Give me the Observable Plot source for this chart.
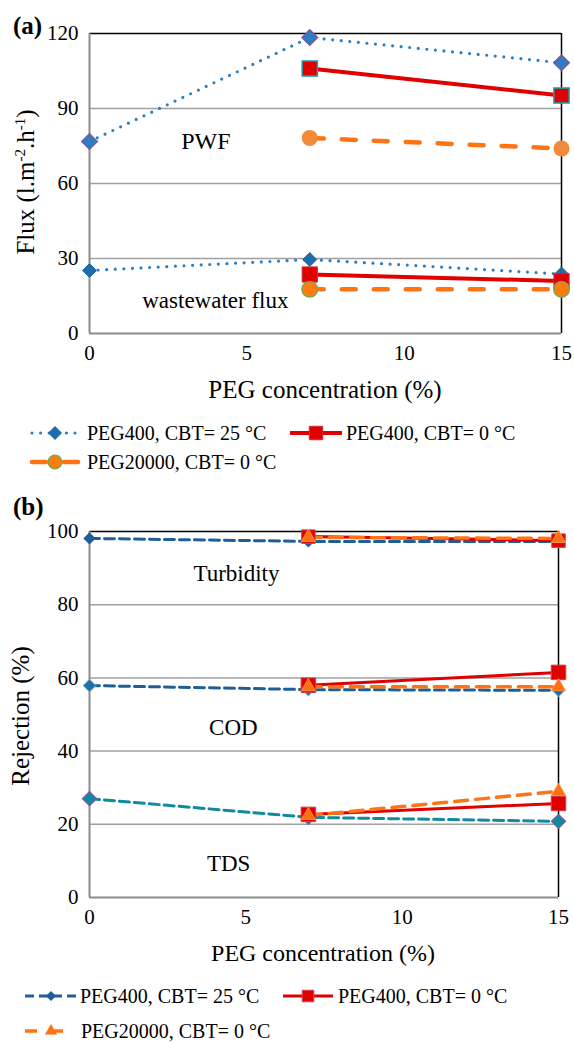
<!DOCTYPE html>
<html><head><meta charset="utf-8">
<script src="https://cdn.jsdelivr.net/npm/d3@7"></script>
<script src="https://cdn.jsdelivr.net/npm/@observablehq/plot@0.6"></script>
<style>
body{margin:0;background:#fff;font-family:'Liberation Serif',serif;}
#wrap{position:relative;width:574px;height:1043px;overflow:hidden;background:#fff}
#wrap > *{position:absolute;left:0}
#wrap svg, #wrap svg text, #wrap svg tspan, #wrap svg g{font-family:'Liberation Serif',serif !important;}
</style></head><body><div id="wrap"></div>
<script>
// ---------- data ----------
const conc = [0, 7, 15];
const concTicks = [0, 5, 10, 15];
const fluxTicks = [0, 30, 60, 90, 120];
const rejTicks = [0, 20, 40, 60, 80, 100];
const seriesNames = ["PEG400, CBT= 25 °C", "PEG400, CBT= 0 °C", "PEG20000, CBT= 0 °C"];
// (a) flux
const pwf400_25 = [76.8, 118.4, 108.3];
const pwf400_0 = [null, 106, 95.2];
const pwf20000_0 = [null, 78.2, 74];
const ww400_25 = [25.2, 29.6, 23.8];
const ww400_0 = [null, 23.6, 21];
const ww20000_0 = [null, 17.7, 17.7];
const fluxNotes = ["PWF", "wastewater flux"];
// (b) rejection
const turb400_25 = [98.1, 97.3, 97.3];
const turb400_0 = [null, 98.6, 97.5];
const turb20000_0 = [null, 98.4, 98.1];
const cod400_25 = [57.9, 56.8, 56.6];
const cod400_0 = [null, 58.0, 61.5];
const cod20000_0 = [null, 57.6, 57.6];
const tds400_25 = [27.0, 21.9, 20.8];
const tds400_0 = [null, 22.7, 25.7];
const tds20000_0 = [null, 22.4, 29.0];
const rejNotes = ["Turbidity", "COD", "TDS"];

// ---------- helpers ----------
const rows = arr => conc.map((x, i) => ({x, y: arr[i]})).filter(d => d.y != null);
const FONT = "'Liberation Serif', serif";
const wrap = document.getElementById("wrap");

function frame(ymax, grid) {
  return [
    Plot.ruleY(grid, {stroke: "#a0a0a0", strokeWidth: 1.5}),
    Plot.ruleY([ymax], {stroke: "#000", strokeWidth: 1.5}),
    Plot.ruleX([15], {stroke: "#000", strokeWidth: 1.5}),
    Plot.ruleX([0], {stroke: "#8c8c8c", strokeWidth: 2}),
    Plot.ruleY([0], {stroke: "#8c8c8c", strokeWidth: 2})
  ];
}

// ---------- (a) ----------
const chartA = Plot.plot({
  width: 574, height: 400,
  marginLeft: 89, marginRight: 13, marginTop: 33, marginBottom: 67,
  x: {domain: [0, 15]},
  y: {domain: [0, 120]},
  style: {fontFamily: FONT, fontSize: "21px", color: "#000", background: "#fff", overflow: "visible"},
  marks: [
    ...frame(120, [30, 60, 90]),
    Plot.axisX(concTicks, {tickSize: 0, tickPadding: 12, fontSize: 21, label: null}),
    Plot.axisY(fluxTicks, {tickSize: 0, tickPadding: 11, fontSize: 21, label: null}),
    // lines
    Plot.line(rows(pwf400_25), {x: "x", y: "y", stroke: "#2a80c6", strokeWidth: 3.2, strokeDasharray: "0 8.6", strokeLinecap: "round"}),
    Plot.line(rows(ww400_25), {x: "x", y: "y", stroke: "#2a80c6", strokeWidth: 3.2, strokeDasharray: "0 8.6", strokeLinecap: "round"}),
    Plot.line(rows(pwf400_0), {x: "x", y: "y", stroke: "#e00000", strokeWidth: 4}),
    Plot.line(rows(ww400_0), {x: "x", y: "y", stroke: "#e00000", strokeWidth: 4}),
    Plot.line(rows(pwf20000_0), {x: "x", y: "y", stroke: "#ff7412", strokeWidth: 4.5, strokeDasharray: "14 18", strokeLinecap: "round"}),
    Plot.line(rows(ww20000_0), {x: "x", y: "y", stroke: "#ff7412", strokeWidth: 4.5, strokeDasharray: "14 18", strokeLinecap: "round"}),
    // markers
    Plot.dot(rows(pwf400_25), {x: "x", y: "y", symbol: "diamond2", r: 7, fill: "#2e7dc0", stroke: "#7a5aa0", strokeWidth: 1.5}),
    Plot.dot(rows(ww400_25), {x: "x", y: "y", symbol: "diamond2", r: 6.3, fill: "#1f6da8", stroke: "#1f6da8", strokeWidth: 1}),
    Plot.dot(rows(pwf400_0), {x: "x", y: "y", symbol: "square", r: 8.6, fill: "#e00000", stroke: "#1aa0b0", strokeWidth: 1.5}),
    Plot.dot(rows(ww400_0), {x: "x", y: "y", symbol: "square", r: 8.6, fill: "#e00000", stroke: "#c83040", strokeWidth: 1}),
    Plot.dot(rows(pwf20000_0), {x: "x", y: "y", symbol: "circle", r: 8, fill: "#f28a3a"}),
    Plot.dot(rows(ww20000_0), {x: "x", y: "y", symbol: "circle", r: 7.8, fill: "#ff7a10", stroke: "#7aaa45", strokeWidth: 1.5}),
    // annotations
    Plot.text([fluxNotes[0]], {x: 3.7, y: 77, text: d => d, fontSize: 24, fill: "#000"}),
    Plot.text([fluxNotes[1]], {x: 4.0, y: 13, text: d => d, fontSize: 23, fill: "#000"})
  ]
});
chartA.style.top = "0px";
wrap.appendChild(chartA);

// ---------- (b) ----------
const chartB = Plot.plot({
  width: 574, height: 470,
  marginLeft: 89, marginRight: 16, marginTop: 31, marginBottom: 73,
  x: {domain: [0, 15]},
  y: {domain: [0, 100]},
  style: {fontFamily: FONT, fontSize: "21px", color: "#000", background: "#fff", overflow: "visible"},
  marks: [
    ...frame(100, [20, 40, 60, 80]),
    Plot.axisX(concTicks, {tickSize: 0, tickPadding: 12, fontSize: 21, label: null}),
    Plot.axisY(rejTicks, {tickSize: 0, tickPadding: 11, fontSize: 21, label: null}),
    // PEG400 25
    Plot.line(rows(turb400_25), {x: "x", y: "y", stroke: "#1f5f99", strokeWidth: 3, strokeDasharray: "10 5"}),
    Plot.line(rows(cod400_25), {x: "x", y: "y", stroke: "#1f5f99", strokeWidth: 3, strokeDasharray: "10 5"}),
    Plot.line(rows(tds400_25), {x: "x", y: "y", stroke: "#108a9e", strokeWidth: 3, strokeDasharray: "10 5"}),
    // PEG400 0
    Plot.line(rows(turb400_0), {x: "x", y: "y", stroke: "#e00000", strokeWidth: 3}),
    Plot.line(rows(cod400_0), {x: "x", y: "y", stroke: "#e00000", strokeWidth: 3}),
    Plot.line(rows(tds400_0), {x: "x", y: "y", stroke: "#e00000", strokeWidth: 3}),
    // PEG20000 0
    Plot.line(rows(turb20000_0), {x: "x", y: "y", stroke: "#ff7412", strokeWidth: 3.5, strokeDasharray: "13 8"}),
    Plot.line(rows(cod20000_0), {x: "x", y: "y", stroke: "#ff7412", strokeWidth: 3.5, strokeDasharray: "13 8"}),
    Plot.line(rows(tds20000_0), {x: "x", y: "y", stroke: "#ff7412", strokeWidth: 3.5, strokeDasharray: "13 8"}),
    // markers
    Plot.dot(rows(turb400_25), {x: "x", y: "y", symbol: "diamond2", r: 4.6, fill: "#1f5f99", stroke: "#1f5f99"}),
    Plot.dot(rows(cod400_25), {x: "x", y: "y", symbol: "diamond2", r: 5.8, fill: "#1f6fa8", stroke: "#8ab4dc", strokeWidth: 1}),
    Plot.dot(rows(tds400_25), {x: "x", y: "y", symbol: "diamond2", r: 6.2, fill: "#0e8a9e", stroke: "#7a5aa0", strokeWidth: 1.5}),
    Plot.dot(rows(turb400_0), {x: "x", y: "y", symbol: "square", r: 7.6, fill: "#e00000", stroke: "#d04050", strokeWidth: 1}),
    Plot.dot(rows(cod400_0), {x: "x", y: "y", symbol: "square", r: 8.2, fill: "#e00000", stroke: "#d04050", strokeWidth: 1}),
    Plot.dot(rows(tds400_0), {x: "x", y: "y", symbol: "square", r: 8.2, fill: "#e00000", stroke: "#d04050", strokeWidth: 1}),
    Plot.dot(rows(turb20000_0), {x: "x", y: "y", symbol: "triangle", r: 5.2, fill: "#ff7010", stroke: "#ff9040", strokeWidth: 1}),
    Plot.dot(rows(cod20000_0), {x: "x", y: "y", symbol: "triangle", r: 5.2, fill: "#ff7010", stroke: "#ff9040", strokeWidth: 1}),
    Plot.dot(rows(tds20000_0), {x: "x", y: "y", symbol: "triangle", r: 5.2, fill: "#ff7010", stroke: "#ff9040", strokeWidth: 1}),
    // annotations
    Plot.text([rejNotes[0]], {x: 4.7, y: 88.5, text: d => d, fontSize: 23, fill: "#000"}),
    Plot.text([rejNotes[1]], {x: 4.6, y: 46.4, text: d => d, fontSize: 23, fill: "#000"}),
    Plot.text([rejNotes[2]], {x: 4.45, y: 9.3, text: d => d, fontSize: 23, fill: "#000"})
  ]
});
chartB.style.top = "500px";
wrap.appendChild(chartB);

// ---------- overlay: titles, panel labels, legends ----------
const ov = d3.create("svg").attr("width", 574).attr("height", 1043)
  .style("top", "0px").style("overflow", "visible");

ov.append("text").attr("x", 13).attr("y", 34).attr("font-size", 25).attr("font-weight", "bold").text("(a)");
ov.append("text").attr("x", 13).attr("y", 515).attr("font-size", 25).attr("font-weight", "bold").text("(b)");

const ft = ov.append("text").attr("transform", "translate(34,182) rotate(-90)").attr("text-anchor", "middle").attr("font-size", 25);
ft.append("tspan").text("Flux (l.m");
ft.append("tspan").attr("dy", -9).attr("font-size", 15).text("-2");
ft.append("tspan").attr("dy", 9).text(".h");
ft.append("tspan").attr("dy", -9).attr("font-size", 15).text("-1");
ft.append("tspan").attr("dy", 9).text(")");

ov.append("text").attr("transform", "translate(29,716) rotate(-90)").attr("text-anchor", "middle").attr("font-size", 25).text("Rejection (%)");

ov.append("text").attr("x", 325).attr("y", 398).attr("text-anchor", "middle").attr("font-size", 25).text("PEG concentration (%)");
ov.append("text").attr("x", 323).attr("y", 961).attr("text-anchor", "middle").attr("font-size", 24).text("PEG concentration (%)");

function legendItem(g, x0, x1, y, lineStyle, marker, label, tx) {
  g.append("line").attr("x1", x0).attr("x2", x1).attr("y1", y).attr("y2", y)
    .attr("stroke", lineStyle.stroke).attr("stroke-width", lineStyle.width)
    .attr("stroke-dasharray", lineStyle.dash || null).attr("stroke-linecap", lineStyle.cap || "butt");
  const sym = d3.symbol().type(marker.type).size(Math.PI * marker.r * marker.r);
  g.append("path").attr("d", sym()).attr("transform", `translate(${(x0 + x1) / 2},${y})`)
    .attr("fill", marker.fill).attr("stroke", marker.stroke || "none").attr("stroke-width", marker.sw || 1);
  g.append("text").attr("x", tx).attr("y", y).attr("dy", "0.34em").attr("font-size", 20).text(label);
}
// top legend
legendItem(ov, 32, 78, 433, {stroke: "#2a80c6", width: 3.2, dash: "0 8.6", cap: "round"},
  {type: d3.symbolDiamond2, r: 6.3, fill: "#1f6da8"}, seriesNames[0], 87);
legendItem(ov, 290, 342, 433, {stroke: "#e00000", width: 4},
  {type: d3.symbolSquare, r: 7.6, fill: "#e00000", stroke: "#c83040"}, seriesNames[1], 346);
legendItem(ov, 32, 78, 462, {stroke: "#ff7412", width: 4.5, dash: "14 18", cap: "round"},
  {type: d3.symbolCircle, r: 6.8, fill: "#ff7a10", stroke: "#7aaa45", sw: 1.5}, seriesNames[2], 87);
// bottom legend
legendItem(ov, 25, 77, 996, {stroke: "#1f5f99", width: 3, dash: "9 5"},
  {type: d3.symbolDiamond2, r: 4.6, fill: "#1f5f99"}, seriesNames[0], 80);
legendItem(ov, 283, 333, 996, {stroke: "#e00000", width: 3},
  {type: d3.symbolSquare, r: 6.5, fill: "#e00000", stroke: "#d04050"}, seriesNames[1], 338);
legendItem(ov, 25, 77, 1031, {stroke: "#ff7412", width: 3.5, dash: "12 14"},
  {type: d3.symbolTriangle, r: 4.5, fill: "#ff7010"}, seriesNames[2], 81);

wrap.appendChild(ov.node());
</script></body></html>
